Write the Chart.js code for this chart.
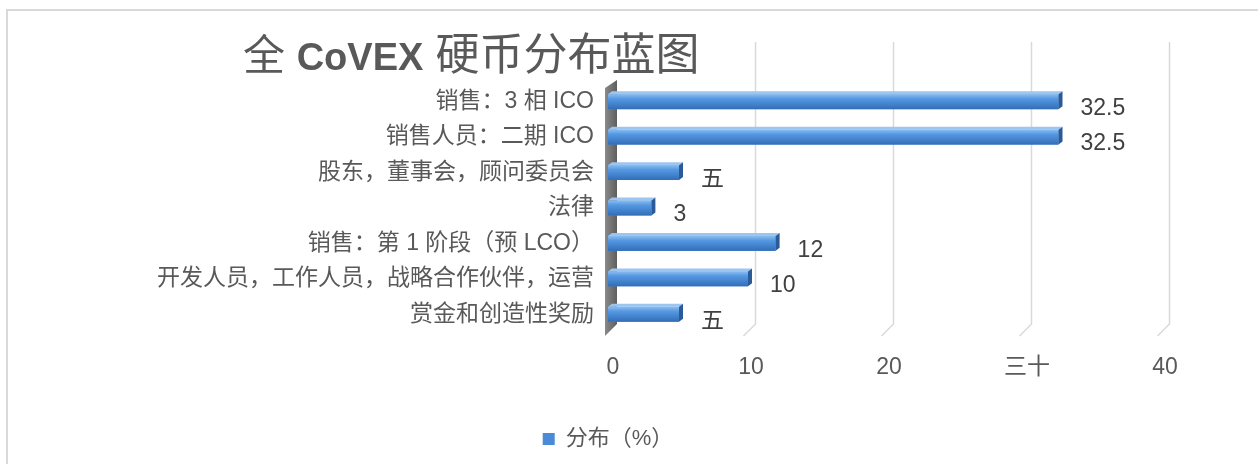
<!DOCTYPE html>
<html>
<head>
<meta charset="utf-8">
<script src="https://cdn.jsdelivr.net/npm/chart.js@4.4.1/dist/chart.umd.min.js"></script>
<style>
html,body{margin:0;padding:0;background:#fff}
#wrap{width:1258px;height:464px}
</style>
</head>
<body>
<div id="wrap"><canvas id="chartCoinHTML"></canvas></div>
<script>
// data
const categories=['销售：3 相 ICO','销售人员：二期 ICO','股东，董事会，顾问委员会','法律','销售：第 1 阶段（预 LCO）','开发人员，工作人员，战略合作伙伴，运营','赏金和创造性奖励']
const shares=[32.5,32.5,5,3,12,10,5]
const shareLabels=['32.5','32.5','五','3','12','10','五']
const tickLabels=['0','10','20','三十','40']
const seriesName='分布（%）'

const fam='"Liberation Sans","Noto Sans CJK SC",sans-serif'
const grey='#595959'

// page frame, and nudge the legend a bit right like the original
const framePlugin={id:'frame',
 afterLayout(chart){ if(chart.legend){chart.legend.left+=27;chart.legend.right+=27} },
 beforeDraw(chart){
  const c=chart.ctx
  c.save();c.strokeStyle='#d9d9d9';c.lineWidth=2
  c.strokeRect(7,10,1400,600)
  c.restore()
 }}

// fake 3D walls: grid lines on the back plane and the grey left wall
const wallPlugin={id:'wall',beforeDatasetsDraw(chart){
 const c=chart.ctx, a=chart.chartArea, xs=chart.scales.x
 const top=a.top-42, back=a.bottom-8, d=12, sh=7
 c.save()
 c.strokeStyle='#d9d9d9';c.lineWidth=1.5
 xs.ticks.forEach(t=>{
  if(t.value===0) return
  const x=Math.round(xs.getPixelForValue(t.value))+sh+0.5
  c.beginPath();c.moveTo(x,top);c.lineTo(x,back);c.lineTo(x-d,back+d);c.stroke()
 })
 const x0=xs.getPixelForValue(0)+sh
 const g=c.createLinearGradient(x0-d,0,x0,0)
 g.addColorStop(0,'#8a8a8a');g.addColorStop(1,'#5e5e5e')
 c.fillStyle=g
 c.beginPath()
 c.moveTo(x0-d,a.top+4);c.lineTo(x0,a.top-4);c.lineTo(x0,back);c.lineTo(x0-d,back+d);c.closePath()
 c.fill()
 c.restore()
}}

// shading, end caps and value labels on the bars
const barPlugin={id:'bar3d',afterDatasetsDraw(chart){
 const c=chart.ctx, meta=chart.getDatasetMeta(0)
 c.save()
 meta.data.forEach((el,i)=>{
  const x0=el.base-2, x1=el.x, h=el.height, y0=el.y-h/2, dd=4
  const g=c.createLinearGradient(0,y0,0,y0+h)
  g.addColorStop(0,'#8cbcef');g.addColorStop(0.3,'#5599e2');g.addColorStop(1,'#326db8')
  c.fillStyle=g
  c.fillRect(x0,y0,x1-x0,h)
  c.fillStyle='#9cc6f2'
  c.beginPath();c.moveTo(x0,y0);c.lineTo(x1,y0);c.lineTo(x1+dd,y0-3);c.lineTo(x0+dd,y0-3);c.closePath();c.fill()
  c.fillStyle='#2a5a98'
  c.beginPath();c.moveTo(x1,y0);c.lineTo(x1+dd,y0-3);c.lineTo(x1+dd,y0+h-3);c.lineTo(x1,y0+h);c.closePath();c.fill()
  c.fillStyle='#404040';c.font='23px '+fam;c.textAlign='left';c.textBaseline='middle'
  c.fillText(shareLabels[i],x1+22,el.y+7)
 })
 c.restore()
}}

// title with bold latin part
const titlePlugin={id:'bigTitle',afterDraw(chart){
 const c=chart.ctx
 c.save();c.fillStyle=grey;c.textBaseline='alphabetic';c.textAlign='left'
 let x=243
 const parts=[['全 ','42px '+fam],['CoVEX','bold 38px '+fam],[' 硬币分布蓝图','44px '+fam]]
 parts.forEach(p=>{c.font=p[1];c.fillText(p[0],x,70);x+=c.measureText(p[0]).width})
 c.restore()
}}

let chartCoin=new Chart(document.getElementById('chartCoinHTML'),{
 type:'bar',
 data:{
  labels:categories,
  datasets:[{label:seriesName,data:shares,backgroundColor:'#4a8ad6',borderWidth:0,
   barPercentage:0.42,categoryPercentage:1}]
 },
 options:{
  indexAxis:'y',
  responsive:true,
  maintainAspectRatio:false,
  animation:false,
  layout:{padding:{top:84,right:96,bottom:4,left:0}},
  scales:{
   x:{min:0,max:40,
    ticks:{stepSize:10,padding:22,labelOffset:3,color:grey,font:{family:fam,size:23},
     callback:(v,i)=>tickLabels[i]},
    grid:{display:false,drawTicks:false},border:{display:false},
    afterFit:s=>{s.height=86}},
   y:{ticks:{padding:16,color:grey,font:{family:fam,size:23}},
    grid:{display:false,drawTicks:false},border:{display:false},
    afterFit:s=>{s.width=610}}
  },
  plugins:{
   legend:{position:'bottom',labels:{boxWidth:12,boxHeight:12,padding:10,color:grey,font:{family:fam,size:22}}},
   tooltip:{enabled:false}
  }
 },
 plugins:[framePlugin,wallPlugin,barPlugin,titlePlugin]
})
</script>
</body>
</html>
